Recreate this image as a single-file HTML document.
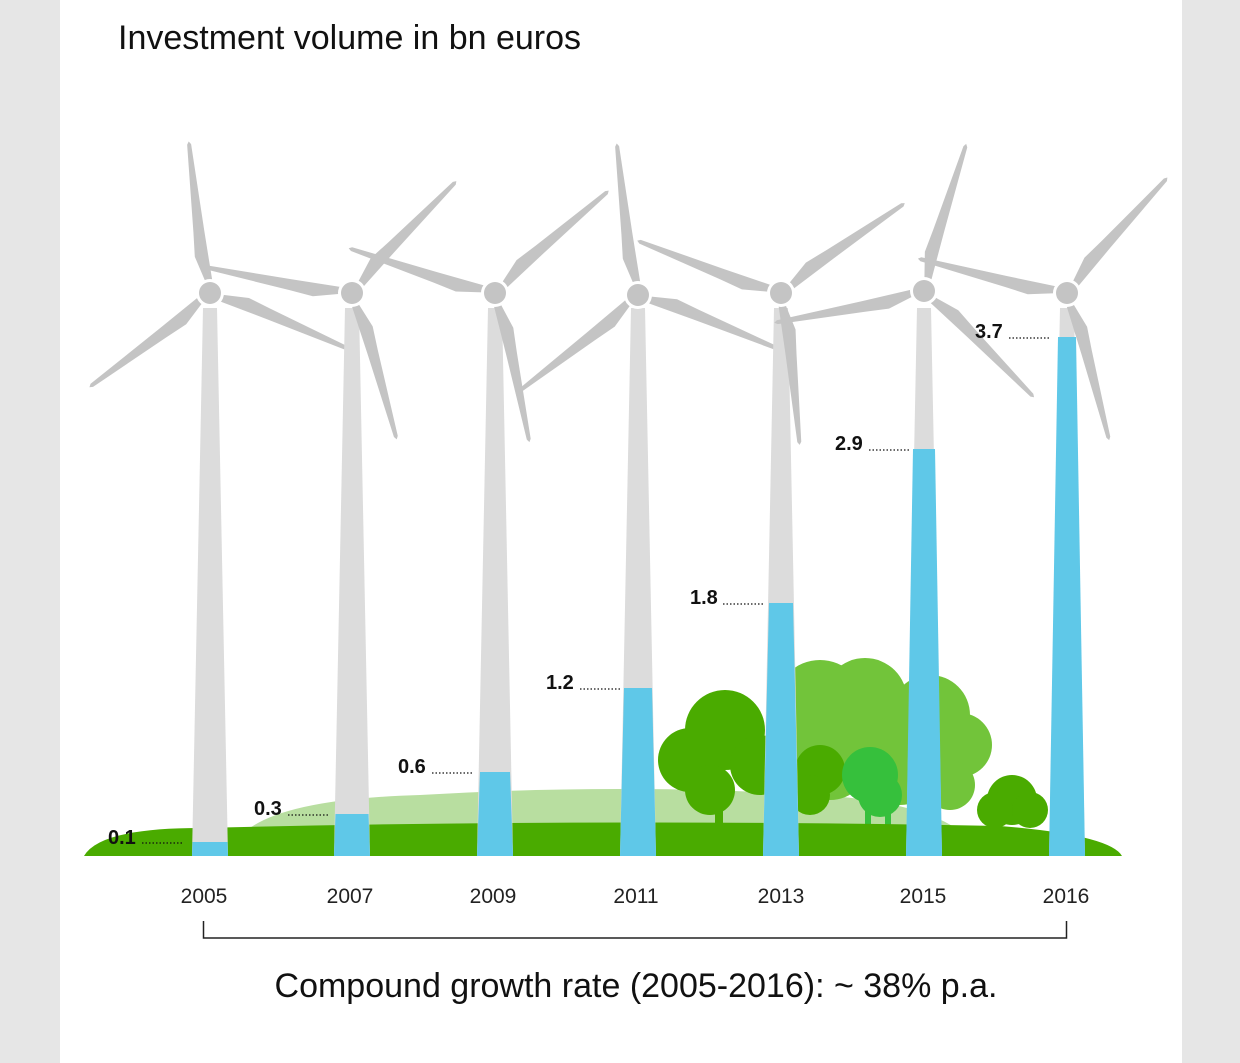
<!DOCTYPE html>
<html><head><meta charset="utf-8"><style>
body{margin:0;background:#e6e6e6;}
svg{display:block;font-family:"Liberation Sans",sans-serif;}
</style></head><body>
<svg width="1240" height="1063" viewBox="0 0 1240 1063">
<rect x="0" y="0" width="1240" height="1063" fill="#e6e6e6"/>
<rect x="60" y="0" width="1122" height="1063" fill="#ffffff"/>
<text x="118" y="49" font-size="34" fill="#111">Investment volume in bn euros</text>
<defs>
<polygon id="bl" points="12,-3 38,-10 62,-8 150,-2 153,0 150,2 62,3 12,4" fill="#c4c4c4"/>
</defs>
<path d="M230,856 Q240,800 420,795 Q620,783 820,795 Q960,805 980,856 Z" fill="#b8dea0"/>
<g fill="#72c43a">
<circle cx="820" cy="705" r="45"/><circle cx="865" cy="700" r="42"/><circle cx="930" cy="715" r="40"/><circle cx="960" cy="745" r="32"/><circle cx="900" cy="760" r="45"/><circle cx="830" cy="760" r="40"/><circle cx="950" cy="785" r="25"/>
</g>
<g fill="#4aab00">
<circle cx="725" cy="730" r="40"/><circle cx="690" cy="760" r="32"/><circle cx="760" cy="765" r="30"/><circle cx="710" cy="790" r="25"/><rect x="715" y="790" width="8" height="35"/>
<circle cx="820" cy="770" r="25"/><circle cx="810" cy="795" r="20"/>
<circle cx="1012" cy="800" r="25"/><circle cx="995" cy="810" r="18"/><circle cx="1030" cy="810" r="18"/>
</g>
<g fill="#36c03c">
<circle cx="870" cy="775" r="28"/><circle cx="880" cy="795" r="22"/><rect x="865" y="800" width="6" height="35"/><rect x="885" y="800" width="6" height="35"/>
</g>
<path d="M84,856 Q100,828 200,828 Q600,818 1000,826 Q1110,835 1122,856 Z" fill="#4aab00"/>
<g>
<g transform="translate(210,293)">
<polygon points="-7,15 7,15 18,563 -18,563" fill="#dcdcdc"/>
<polygon points="-17.5,549 17.5,549 18,563 -18,563" fill="#5fc8e8"/>
<use href="#bl" transform="rotate(-98)"/><use href="#bl" transform="rotate(22)"/><use href="#bl" transform="rotate(142)"/>
<circle r="14" fill="#fff"/><circle r="11" fill="#c4c4c4"/></g>
<g transform="translate(352,293)">
<polygon points="-7,15 7,15 18,563 -18,563" fill="#dcdcdc"/>
<polygon points="-16.5,521 16.5,521 18,563 -18,563" fill="#5fc8e8"/>
<use href="#bl" transform="rotate(190)"/><use href="#bl" transform="rotate(-47)"/><use href="#bl" transform="rotate(73)"/>
<circle r="14" fill="#fff"/><circle r="11" fill="#c4c4c4"/></g>
<g transform="translate(495,293)">
<polygon points="-7,15 7,15 18,563 -18,563" fill="#dcdcdc"/>
<polygon points="-15,479 15,479 18,563 -18,563" fill="#5fc8e8"/>
<use href="#bl" transform="rotate(-42)"/><use href="#bl" transform="rotate(197)"/><use href="#bl" transform="rotate(77)"/>
<circle r="14" fill="#fff"/><circle r="11" fill="#c4c4c4"/></g>
<g transform="translate(638,295)">
<polygon points="-7,13 7,13 18,561 -18,561" fill="#dcdcdc"/>
<polygon points="-14,393 14,393 18,561 -18,561" fill="#5fc8e8"/>
<use href="#bl" transform="rotate(-98)"/><use href="#bl" transform="rotate(141)"/><use href="#bl" transform="rotate(21)"/>
<circle r="14" fill="#fff"/><circle r="11" fill="#c4c4c4"/></g>
<g transform="translate(781,293)">
<polygon points="-7,15 7,15 18,563 -18,563" fill="#dcdcdc"/>
<polygon points="-12,310 12,310 18,563 -18,563" fill="#5fc8e8"/>
<use href="#bl" transform="rotate(-36)"/><use href="#bl" transform="rotate(200)"/><use href="#bl" transform="rotate(83)"/>
<circle r="14" fill="#fff"/><circle r="11" fill="#c4c4c4"/></g>
<g transform="translate(924,291)">
<polygon points="-7,17 7,17 18,565 -18,565" fill="#dcdcdc"/>
<polygon points="-11,158 11,158 18,565 -18,565" fill="#5fc8e8"/>
<use href="#bl" transform="rotate(-74)"/><use href="#bl" transform="rotate(44)"/><use href="#bl" transform="rotate(168)"/>
<circle r="14" fill="#fff"/><circle r="11" fill="#c4c4c4"/></g>
<g transform="translate(1067,293)">
<polygon points="-7,15 7,15 18,563 -18,563" fill="#dcdcdc"/>
<polygon points="-9,44 9,44 18,563 -18,563" fill="#5fc8e8"/>
<use href="#bl" transform="rotate(-49)"/><use href="#bl" transform="rotate(193)"/><use href="#bl" transform="rotate(74)"/>
<circle r="14" fill="#fff"/><circle r="11" fill="#c4c4c4"/></g>
</g>
<g font-size="20" font-weight="bold" fill="#111">
<text x="108" y="844">0.1</text><text x="254" y="815">0.3</text><text x="398" y="773">0.6</text><text x="546" y="689">1.2</text><text x="690" y="604">1.8</text><text x="835" y="450">2.9</text><text x="975" y="338">3.7</text>
</g>
<g stroke="#111" stroke-width="1.2" stroke-dasharray="1.5,2">
<line x1="142" y1="843" x2="184" y2="843"/><line x1="288" y1="815" x2="330" y2="815"/><line x1="432" y1="773" x2="474" y2="773"/><line x1="580" y1="689" x2="622" y2="689"/><line x1="723" y1="604" x2="765" y2="604"/><line x1="869" y1="450" x2="911" y2="450"/><line x1="1009" y1="338" x2="1051" y2="338"/>
</g>
<g font-size="21" fill="#222" text-anchor="middle">
<text x="204" y="903">2005</text><text x="350" y="903">2007</text><text x="493" y="903">2009</text><text x="636" y="903">2011</text><text x="781" y="903">2013</text><text x="923" y="903">2015</text><text x="1066" y="903">2016</text>
</g>
<path d="M203.5,921 V938 H1066.5 V921" fill="none" stroke="#222" stroke-width="1.5"/>
<text x="636" y="997" font-size="34" fill="#111" text-anchor="middle">Compound growth rate (2005-2016): ~ 38% p.a.</text>
</svg>
</body></html>
